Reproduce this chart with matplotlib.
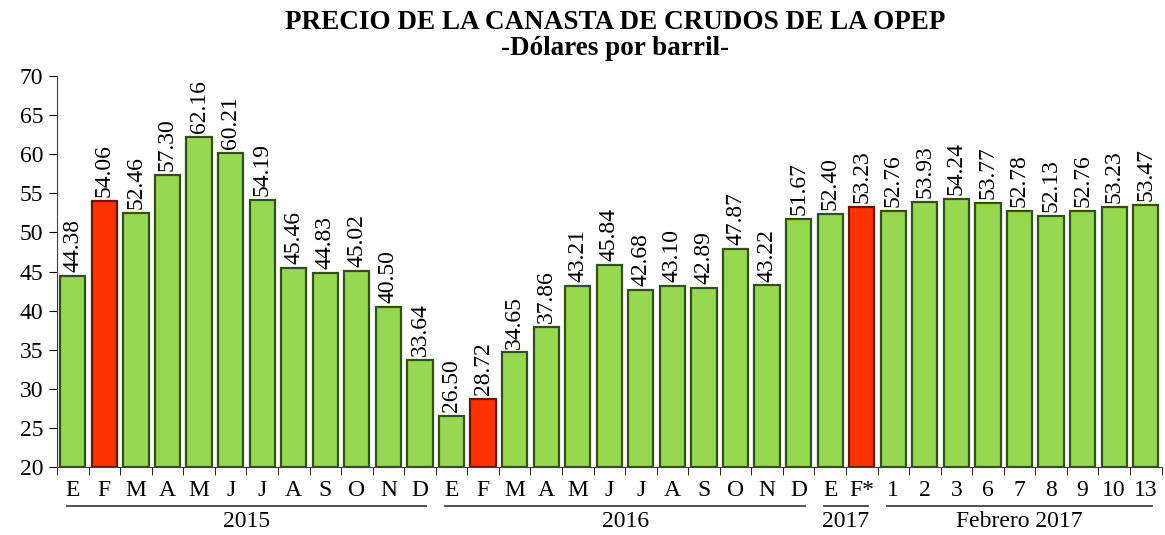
import numpy as np
import matplotlib.pyplot as plt
import matplotlib.transforms as mtransforms

plt.rcParams['font.family'] = ['Liberation Serif', 'DejaVu Serif']

labels = ['E', 'F', 'M', 'A', 'M', 'J', 'J', 'A', 'S', 'O', 'N', 'D',
          'E', 'F', 'M', 'A', 'M', 'J', 'J', 'A', 'S', 'O', 'N', 'D',
          'E', 'F*', '1', '2', '3', '6', '7', '8', '9', '10', '13']
values = [44.38, 54.06, 52.46, 57.30, 62.16, 60.21, 54.19, 45.46, 44.83, 45.02, 40.50, 33.64,
          26.50, 28.72, 34.65, 37.86, 43.21, 45.84, 42.68, 43.10, 42.89, 47.87, 43.22, 51.67,
          52.40, 53.23, 52.76, 53.93, 54.24, 53.77, 52.78, 52.13, 52.76, 53.23, 53.47]
highlight = [1, 13, 25]
groups = [('2015', 0, 11), ('2016', 12, 23), ('2017', 24, 25), ('Febrero 2017', 26, 34)]

fig = plt.figure(figsize=(11.65, 5.35), dpi=100)
ax = fig.add_axes([0.049, 0.127, 0.948, 0.731])

x = np.arange(len(values))
colors = ['#FF3300' if i in highlight else '#96D850' for i in x]
edges = ['#6a1500' if i in highlight else '#34501a' for i in x]
ax.bar(x, np.array(values) - 20, bottom=20, width=0.8, color=colors,
       edgecolor=edges, linewidth=1.6, zorder=2)

for xi, v in zip(x, values):
    ax.text(xi, v + 0.5, f'{v:.2f}', rotation=90, ha='center', va='bottom',
            fontsize=17)

ax.set_xlim(-0.5, len(values) - 0.5)
ax.set_ylim(20, 70)
ax.set_yticks(range(20, 71, 5))
ax.tick_params(axis='y', labelsize=17, length=6, direction='out', pad=4)

ax.set_xticks(x)
ax.set_xticklabels(labels, fontsize=17)
ax.tick_params(axis='x', length=0, pad=9)
ax.set_xticks(np.arange(-0.5, len(values), 1), minor=True)
ax.tick_params(axis='x', which='minor', length=6, direction='out')

for s in ['top', 'right']:
    ax.spines[s].set_visible(False)
ax.spines['left'].set_color('#404040')
ax.spines['bottom'].set_color('#404040')

trans = mtransforms.blended_transform_factory(ax.transData, ax.transAxes)
for name, i0, i1 in groups:
    ax.plot([i0 - 0.2, i1 + 0.2], [-0.1, -0.1], color='#404040', lw=1.3,
            transform=trans, clip_on=False)
    ax.text((i0 + i1) / 2, -0.112, name, transform=trans, ha='center', va='top',
            fontsize=17)

fig.text(0.528, 0.958, 'PRECIO DE LA CANASTA DE CRUDOS DE LA OPEP', ha='center',
         va='center', fontsize=19.5, fontweight='bold')
fig.text(0.528, 0.91, '-Dólares por barril-', ha='center', va='center',
         fontsize=19.5, fontweight='bold')

fig.savefig('out.png', dpi=100)
